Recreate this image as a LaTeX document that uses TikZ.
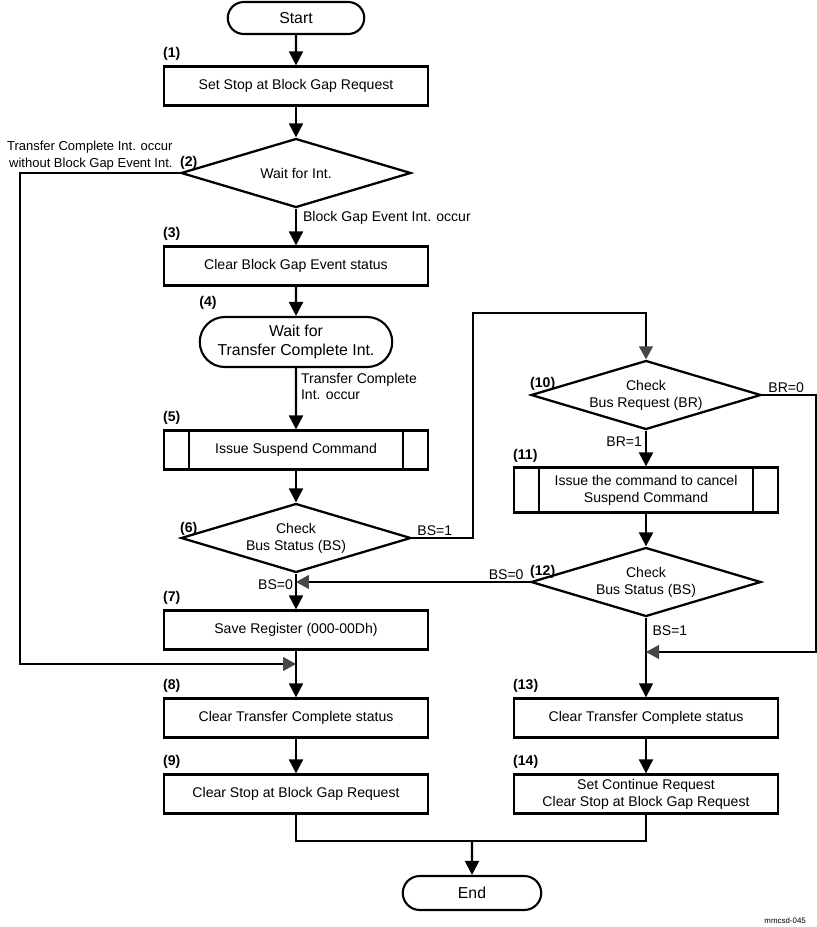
\documentclass[tikz,border=0pt]{standalone}
\usepackage{fontspec}
\setmainfont{Liberation Sans}
\usetikzlibrary{arrows.meta,positioning,shapes.geometric,shapes.misc}

\begin{document}
\begin{tikzpicture}[
      x=0.02cm,
      y=-0.02cm,
      font=\fontsize{8}{9.6}\selectfont,
      box/.style={draw, line width=1.3pt, align=center, minimum width=5.28cm, minimum height=0.78cm, inner sep=2pt},
      subproc/.style={box, path picture={
          \draw[line width=1.1pt] ([xshift=0.5cm]path picture bounding box.north west) -- ([xshift=0.5cm]path picture bounding box.south west);
          \draw[line width=1.1pt] ([xshift=-0.5cm]path picture bounding box.north east) -- ([xshift=-0.5cm]path picture bounding box.south east);}},
      term/.style={draw, rounded rectangle, line width=1.2pt, align=center, font=\fontsize{9}{10.5}\selectfont, inner sep=1pt},
      decision/.style={draw, diamond, line width=1.3pt, align=center, minimum width=4.6cm, minimum height=1.38cm, inner sep=0pt, shape aspect=3.3},
      num/.style={font=\fontsize{8}{9.6}\selectfont\bfseries, inner sep=0pt, anchor=south west},
      lbl/.style={inner sep=0pt},
      flow/.style={-{Triangle[length=0.28cm, width=0.28cm]}, line width=1.2pt},
      thinflow/.style={-{Triangle[length=0.28cm, width=0.28cm]}, line width=0.6pt},
      link/.style={line width=0.6pt},
      back/.style={-{Triangle[length=0.26cm, width=0.28cm, color=black!72]}, line width=0.6pt}
  ]
  \useasboundingbox (0,0) rectangle (817,927);
  % Fixed grid in pixels of the original sheet
  % Columns: 296 (left), 646 (right), 472 (end)

  % --- Left column ---
  \node[term, minimum width=2.8cm, minimum height=0.64cm] (start) at (296,18) {Start};
  \node[box]      (s1) at (296,86)  {Set Stop at Block Gap Request};
  \node[decision] (s2) at (296,173) {Wait for Int.};
  \node[box]      (s3) at (296,266) {Clear Block Gap Event status};
  \node[term, minimum width=3.92cm, minimum height=1.0cm] (s4) at (296,342) {Wait for\\Transfer Complete Int.};
  \node[subproc]  (s5) at (296,450) {Issue Suspend Command};
  \node[decision] (s6) at (296,538) {Check\\Bus Status (BS)};
  \node[box]      (s7) at (296,630) {Save Register (000-00Dh)};
  \node[box]      (s8) at (296,718) {Clear Transfer Complete status};
  \node[box]      (s9) at (296,794) {Clear Stop at Block Gap Request};

  % --- Right column ---
  \node[decision] (s10) at (646,395) {Check\\Bus Request (BR)};
  \node[subproc, minimum height=0.9cm] (s11) at (646,490) {Issue the command to cancel\\Suspend Command};
  \node[decision] (s12) at (646,582) {Check\\Bus Status (BS)};
  \node[box]      (s13) at (646,718) {Clear Transfer Complete status};
  \node[box]      (s14) at (646,794) {Set Continue Request\\Clear Stop at Block Gap Request};

  \node[term, minimum width=2.84cm, minimum height=0.68cm] (end) at (472,893) {End};

  % --- Step numbers ---
  \node[num] (n1)  at ([yshift=0.1cm]s1.north west)  {(1)};
  \node[num] (n2)  at ([yshift=0.06cm]s2.west)       {(2)};
  \node[num] (n3)  at ([yshift=0.1cm]s3.north west)  {(3)};
  \node[num] (n4)  at ([xshift=-1.94cm, yshift=0.12cm]s4.north) {(4)};
  \node[num] (n5)  at ([yshift=0.1cm]s5.north west)  {(5)};
  \node[num] (n6)  at ([yshift=0.04cm]s6.west)       {(6)};
  \node[num] (n7)  at ([yshift=0.1cm]s7.north west)  {(7)};
  \node[num] (n8)  at ([yshift=0.1cm]s8.north west)  {(8)};
  \node[num] (n9)  at ([yshift=0.1cm]s9.north west)  {(9)};
  \node[num] (n10) at ([yshift=0.08cm]s10.west)      {(10)};
  \node[num] (n11) at ([yshift=0.08cm]s11.north west) {(11)};
  \node[num] (n12) at ([yshift=0.06cm]s12.west)      {(12)};
  \node[num] (n13) at ([yshift=0.1cm]s13.north west) {(13)};
  \node[num] (n14) at ([yshift=0.1cm]s14.north west) {(14)};

  % --- Main flow ---
  \draw[flow] (start) -- (s1);
  \draw[flow] (s1) -- (s2);
  \draw[flow] (s2) -- node[lbl, anchor=west, pos=0.26, xshift=0.12cm] (bge) {Block Gap Event Int. occur} (s3);
  \draw[flow] (s3) -- (s4);
  \draw[flow] (s4) -- node[lbl, anchor=west, align=left, pos=0.3, xshift=0.08cm] (tco) {Transfer Complete\\Int. occur} (s5);
  \draw[flow] (s5) -- (s6);
  \draw[flow] (s6) -- node[lbl, anchor=east, pos=0.32, xshift=-0.04cm] (bs0a) {BS=0} (s7);
  \draw[flow] (s7) -- (s8);
  \draw[flow] (s8) -- (s9);

  \draw[flow] (s10) -- node[lbl, anchor=east, pos=0.32, xshift=-0.06cm] (br1) {BR=1} (s11);
  \draw[flow] (s11) -- (s12);
  \draw[thinflow] (s12) -- node[lbl, anchor=west, pos=0.16, xshift=0.12cm] (bs1b) {BS=1} (s13);
  \draw[flow] (s13) -- (s14);

  % --- Merge into End ---
  \coordinate (mj) at (472,841);
  \draw[link] (s9.south) |- (mj) -| (s14.south);
  \draw[flow] (mj) -- (end);

  % --- Return paths ---
  \coordinate (lc) at (20,664);
  \coordinate (j8) at (s7.south |- lc);
  \draw[back] (s2.west) -| (lc) -- (j8);
  \node[lbl, align=right, anchor=south east, font=\fontsize{7.4}{9.4}\selectfont] (tc) at ([xshift=-0.14cm, yshift=0.05cm]s2.west) {Transfer Complete Int. occur\\without Block Gap Event Int.};

  \coordinate (rc) at (473,313);
  \draw[back] (s6.east) -| (rc) -| (s10.north);
  \node[lbl, anchor=south west] (bs1a) at ([xshift=0.1cm, yshift=0.04cm]s6.east) {BS=1};

  \draw[back] (s12.west) -- (s12.west -| s6.south);
  \node[lbl, anchor=south east] (bs0b) at ([xshift=-0.12cm, yshift=0.04cm]s12.west) {BS=0};

  \coordinate (rr) at (816,652);
  \coordinate (j13) at (s12.south |- rr);
  \draw[back] (s10.east) -| (rr) -- (j13);
  \node[lbl, anchor=south west] (br0) at ([xshift=0.12cm, yshift=0.04cm]s10.east) {BR=0};

  \node[font=\fontsize{4.5}{5}\selectfont, anchor=east] (fig) at (812,921) {mmcsd-045};

\end{tikzpicture}
\end{document}
